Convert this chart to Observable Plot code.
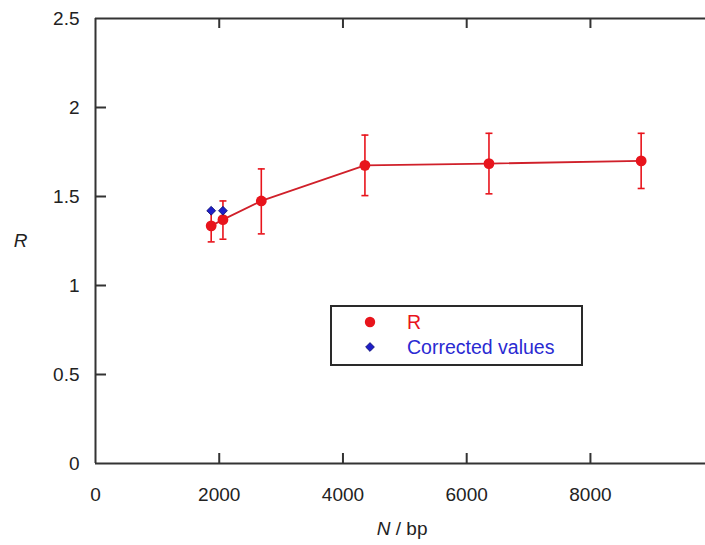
<!DOCTYPE html>
<html>
<head>
<meta charset="utf-8">
<script src="https://cdn.jsdelivr.net/npm/d3@7"></script>
<script src="https://cdn.jsdelivr.net/npm/@observablehq/plot@0.6"></script>
<style>
  html, body { margin: 0; padding: 0; background: #fff; }
  #wrap { position: relative; width: 705px; height: 545px; font-family: "Liberation Sans", Arial, sans-serif; }
  #legend { position: absolute; left: 330px; top: 305px; width: 249px; height: 57px; border: 2px solid #2a2a2a; background: #fff; }
  .row { position: absolute; left: 0; height: 22px; display: flex; align-items: center; font-size: 19.5px; }
  .row svg { position: absolute; left: 31px; }
  .row span { position: absolute; left: 75px; white-space: nowrap; line-height: 22px; }
</style>
</head>
<body>
<div id="wrap"></div>
<script>
// Data
const N = [1870, 2060, 2680, 4355, 6360, 8820];
const R = [1.335, 1.37, 1.475, 1.675, 1.685, 1.70];
const errLow = [1.245, 1.26, 1.29, 1.505, 1.515, 1.545];
const errHigh = [1.42, 1.475, 1.655, 1.845, 1.855, 1.855];
const corrN = [1870, 2060];
const corrR = [1.42, 1.42];
const xTicks = [0, 2000, 4000, 6000, 8000];
const yTicks = [0, 0.5, 1, 1.5, 2, 2.5];
const legendLabels = ["R", "Corrected values"];

const rows = N.map((n, i) => ({N: n, R: R[i], lo: errLow[i], hi: errHigh[i]}));
const corr = corrN.map((n, i) => ({N: n, R: corrR[i]}));

const red = "#e8141c";
const lineRed = "#d0202a";
const blue = "#1e1ec8";
const axisColor = "#333";

const cap = {
  draw(context, size) {
    const w = Math.sqrt(size / Math.PI);
    context.moveTo(-w, 0);
    context.lineTo(w, 0);
  }
};

const W = 705, H = 545, mL = 95, mR = 0, mT = 18, mB = 82;
const plotH = H - mT - mB, plotW = W - mL - mR;

const chart = Plot.plot({
  width: W, height: H,
  marginLeft: mL, marginRight: mR, marginTop: mT, marginBottom: mB,
  style: {fontFamily: "'Liberation Sans', Arial, sans-serif", fontSize: "19px", color: "#222", background: "#fff", overflow: "visible"},
  x: {domain: [0, 9860]},
  y: {domain: [0, 2.5]},
  marks: [
    // frame lines
    Plot.ruleY([0], {stroke: axisColor, strokeWidth: 2}),
    Plot.ruleY([2.5], {stroke: axisColor, strokeWidth: 2}),
    Plot.ruleX([0], {stroke: axisColor, strokeWidth: 2}),
    // inward ticks
    Plot.tickX(xTicks.slice(1), {x: d => d, stroke: axisColor, strokeWidth: 2, insetTop: plotH - 10}),
    Plot.tickX(xTicks.slice(1), {x: d => d, stroke: axisColor, strokeWidth: 2, insetBottom: plotH - 10}),
    Plot.tickY(yTicks.slice(1, -1), {y: d => d, stroke: axisColor, strokeWidth: 2, insetRight: plotW - 11}),
    // axis labels
    Plot.axisX({ticks: xTicks, tickSize: 0, tickPadding: 24, tickFormat: d => String(d), label: null, fontSize: 19}),
    Plot.axisY({ticks: yTicks, tickSize: 0, tickPadding: 16, tickFormat: d => String(d), label: null, fontSize: 19}),
    // error bars
    Plot.ruleX(rows, {x: "N", y1: "lo", y2: "hi", stroke: red, strokeWidth: 1.6}),
    Plot.dot(rows, {x: "N", y: "hi", symbol: cap, r: 3.5, stroke: red, strokeWidth: 1.6, fill: "none"}),
    Plot.dot(rows, {x: "N", y: "lo", symbol: cap, r: 3.5, stroke: red, strokeWidth: 1.6, fill: "none"}),
    // line and points
    Plot.line(rows, {x: "N", y: "R", stroke: lineRed, strokeWidth: 1.8}),
    Plot.dot(rows, {x: "N", y: "R", r: 5.4, fill: red, stroke: "none"}),
    Plot.dot(corr, {x: "N", y: "R", symbol: "diamond2", r: 4, fill: blue, stroke: "#10106a", strokeWidth: 0.8}),
    // axis titles
    Plot.text(["R"], {frameAnchor: "left", dx: -75, fontStyle: "italic", fontSize: 19, fill: "#222", textAnchor: "middle"}),
    Plot.text(["N"], {frameAnchor: "bottom", dx: -10, dy: 71, lineAnchor: "bottom", textAnchor: "end", fontStyle: "italic", fontSize: 19, fill: "#222"}),
    Plot.text([" / bp"], {frameAnchor: "bottom", dx: -10, dy: 71, lineAnchor: "bottom", textAnchor: "start", fontSize: 19, fill: "#222"})
  ]
});

const wrap = document.getElementById("wrap");
wrap.appendChild(chart);

// legend overlay
const legend = document.createElement("div");
legend.id = "legend";
const markers = [
  `<svg width="14" height="14" viewBox="-7 -7 14 14"><circle r="5.2" fill="${red}"/></svg>`,
  `<svg width="14" height="14" viewBox="-7 -7 14 14"><path d="M0,-4.4L4.4,0L0,4.4L-4.4,0Z" fill="${blue}" stroke="#10106a" stroke-width="0.8"/></svg>`
];
const colors = [red, "#2a2ad2"];
const tops = [4, 29];
legendLabels.forEach((lab, i) => {
  const row = document.createElement("div");
  row.className = "row";
  row.style.top = tops[i] + "px";
  row.innerHTML = markers[i] + `<span style="color:${colors[i]}">${lab}</span>`;
  legend.appendChild(row);
});
wrap.appendChild(legend);
</script>
</body>
</html>
